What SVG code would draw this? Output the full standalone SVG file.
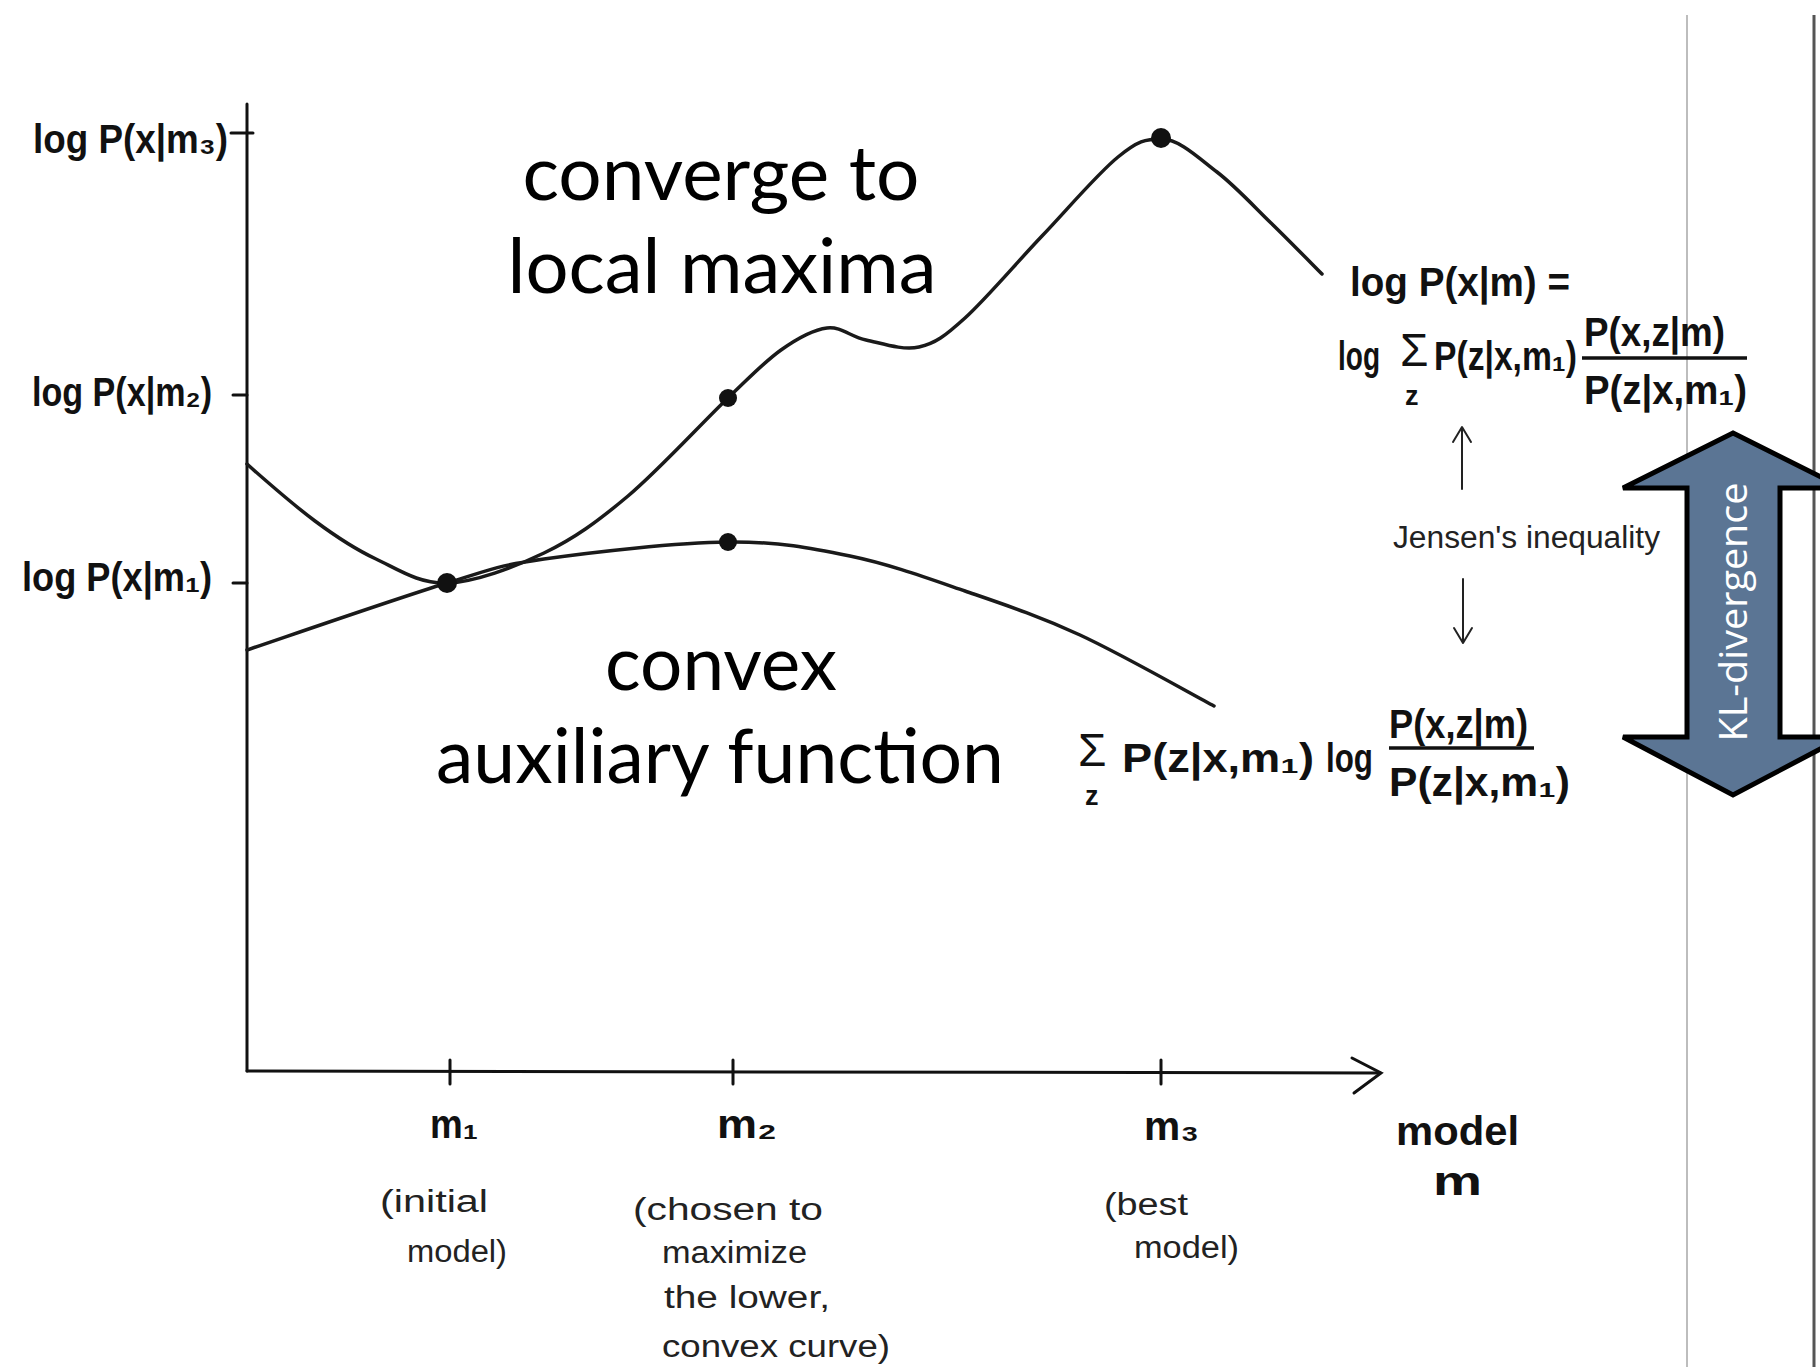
<svg xmlns="http://www.w3.org/2000/svg" width="1820" height="1367" viewBox="0 0 1820 1367">
<style>
.big{font-family:Lato,"Liberation Sans",sans-serif;font-size:76px;fill:#000;text-anchor:middle}
.hw{font-family:"Liberation Sans","DejaVu Sans",sans-serif;font-weight:bold;font-size:40px;fill:#111}
.note{font-family:"Liberation Sans","DejaVu Sans",sans-serif;font-size:31px;fill:#222}
.ax{stroke:#111;stroke-width:3;fill:none;stroke-linecap:round}
.curve{stroke:#1a1a1a;stroke-width:3.5;fill:none;stroke-linecap:round}
.thin{stroke:#222;stroke-width:2;fill:none;stroke-linecap:round;stroke-linejoin:round}
.bar{stroke:#111;stroke-width:3.5}
.dot{fill:#111}
.sig{font-family:"Liberation Sans","DejaVu Sans",sans-serif;font-size:46px;fill:#111}
.sub{font-family:"Liberation Sans","DejaVu Sans",sans-serif;font-weight:bold;font-size:27px;fill:#111}
</style>
<rect width="1820" height="1367" fill="#fff"/>
<g id="frame-lines">
<line x1="1687" y1="15" x2="1687" y2="1367" stroke="#bdbdbd" stroke-width="2"/>
<line x1="1814" y1="15" x2="1814" y2="1367" stroke="#555" stroke-width="3"/>
</g>
<g id="axes">
<line class="ax" x1="247" y1="104" x2="247" y2="1071"/>
<line class="ax" x1="247" y1="1071" x2="1380" y2="1073"/>
<polyline class="ax" points="1352,1058 1381,1073 1354,1093"/>
<line class="ax" x1="231" y1="133" x2="253" y2="133"/>
<line class="ax" x1="233" y1="395" x2="247" y2="395"/>
<line class="ax" x1="233" y1="583" x2="247" y2="583"/>
<line class="ax" x1="450" y1="1060" x2="450" y2="1084"/>
<line class="ax" x1="733" y1="1060" x2="733" y2="1084"/>
<line class="ax" x1="1161" y1="1060" x2="1161" y2="1084"/>
</g>
<g id="curves">
<path id="upper-curve" class="curve" d="M247,464 C258,474 293.5,505 315,521 C336.5,537 354,548.7 376,559 C398,569.3 419,584 447,583 C475,582 513.8,567.5 544,553 C574.2,538.5 597.3,521.8 628,496 C658.7,470.2 702.5,422.3 728,398 C753.5,373.7 764.5,361.7 781,350 C797.5,338.3 812.8,329.7 827,328 C841.2,326.3 850.7,336.8 866,340 C881.3,343.2 902.5,350.7 919,347 C935.5,343.3 944.5,336.5 965,318 C985.5,299.5 1016.5,262.8 1042,236 C1067.5,209.2 1098,173.2 1118,157 C1138,140.8 1145,139 1162,139 C1179,139 1198.8,158 1217,172 C1235.2,186 1253.5,206 1271,223 C1288.5,240 1313.5,265.5 1322,274"/>
<path id="lower-curve" class="curve" d="M247,650 C280.3,638.8 397.5,598.2 447,583 C496.5,567.8 497.2,565.8 544,559 C590.8,552.2 677,542.5 728,542 C779,541.5 810.5,547.8 850,556 C889.5,564.2 926.7,577.8 965,591 C1003.3,604.2 1038.5,615.8 1080,635 C1121.5,654.2 1191.7,694.2 1214,706"/>
<circle class="dot" cx="447" cy="583" r="10"/>
<circle class="dot" cx="728" cy="398" r="9"/>
<circle class="dot" cx="728" cy="542" r="9"/>
<circle class="dot" cx="1161" cy="138" r="10"/>
</g>
<g id="y-labels">
<text class="hw" x="33" y="153" font-size="42" textLength="195" lengthAdjust="spacingAndGlyphs">log P(x|m₃)</text>
<text class="hw" x="32" y="406" font-size="42" textLength="180" lengthAdjust="spacingAndGlyphs">log P(x|m₂)</text>
<text class="hw" x="22" y="591" font-size="42" textLength="190" lengthAdjust="spacingAndGlyphs">log P(x|m₁)</text>
</g>
<g id="titles">
<text class="big" x="721" y="200" textLength="397" lengthAdjust="spacingAndGlyphs">converge to</text>
<text class="big" x="722" y="293" textLength="429" lengthAdjust="spacingAndGlyphs">local maxima</text>
<text class="big" x="721" y="690" textLength="232" lengthAdjust="spacingAndGlyphs">convex</text>
<text class="big" x="720" y="783" textLength="568" lengthAdjust="spacingAndGlyphs">auxiliary function</text>
</g>
<g id="formula-top">
<text class="hw" x="1350" y="296" textLength="220" lengthAdjust="spacingAndGlyphs">log P(x|m) =</text>
<text class="hw" x="1338" y="370" font-size="32" textLength="42" lengthAdjust="spacingAndGlyphs">log</text>
<text class="sig" x="1400" y="366">Σ</text>
<text class="sub" x="1405" y="405">z</text>
<text class="hw" x="1434" y="370" textLength="143" lengthAdjust="spacingAndGlyphs">P(z|x,m₁)</text>
<text class="hw" x="1584" y="346" textLength="141" lengthAdjust="spacingAndGlyphs">P(x,z|m)</text>
<line class="bar" x1="1582" y1="358" x2="1747" y2="358"/>
<text class="hw" x="1584" y="404" textLength="163" lengthAdjust="spacingAndGlyphs">P(z|x,m₁)</text>
</g>
<g id="jensen">
<line class="thin" x1="1462" y1="489" x2="1462" y2="428"/>
<polyline class="thin" points="1453,442 1462,427 1471,442"/>
<text class="note" x="1393" y="548" textLength="267" lengthAdjust="spacingAndGlyphs">Jensen's inequality</text>
<line class="thin" x1="1463" y1="579" x2="1463" y2="642"/>
<polyline class="thin" points="1454,628 1463,643 1472,628"/>
</g>
<g id="formula-bottom">
<text class="sig" x="1078" y="766">Σ</text>
<text class="sub" x="1085" y="805">z</text>
<text class="hw" x="1122" y="772" textLength="192" lengthAdjust="spacingAndGlyphs">P(z|x,m₁)</text>
<text class="hw" x="1326" y="772" textLength="47" lengthAdjust="spacingAndGlyphs">log</text>
<text class="hw" x="1389" y="738" textLength="139" lengthAdjust="spacingAndGlyphs">P(x,z|m)</text>
<line class="bar" x1="1389" y1="748" x2="1534" y2="748"/>
<text class="hw" x="1389" y="796" textLength="181" lengthAdjust="spacingAndGlyphs">P(z|x,m₁)</text>
</g>
<g id="x-labels">
<text class="hw" x="430" y="1138" font-size="42" textLength="48" lengthAdjust="spacingAndGlyphs">m₁</text>
<text class="hw" x="717" y="1138" font-size="42" textLength="60" lengthAdjust="spacingAndGlyphs">m₂</text>
<text class="hw" x="1144" y="1140" font-size="42" textLength="55" lengthAdjust="spacingAndGlyphs">m₃</text>
<text class="hw" x="1396" y="1145" font-size="42" textLength="123" lengthAdjust="spacingAndGlyphs">model</text>
<text class="hw" x="1433" y="1195" font-size="42" textLength="49" lengthAdjust="spacingAndGlyphs">m</text>
<text class="note" x="380" y="1212" textLength="108" lengthAdjust="spacingAndGlyphs">(initial</text>
<text class="note" x="407" y="1262" textLength="100" lengthAdjust="spacingAndGlyphs">model)</text>
<text class="note" x="633" y="1220" textLength="190" lengthAdjust="spacingAndGlyphs">(chosen to</text>
<text class="note" x="662" y="1263" textLength="145" lengthAdjust="spacingAndGlyphs">maximize</text>
<text class="note" x="664" y="1308" textLength="166" lengthAdjust="spacingAndGlyphs">the lower,</text>
<text class="note" x="662" y="1357" textLength="228" lengthAdjust="spacingAndGlyphs">convex curve)</text>
<text class="note" x="1104" y="1215" textLength="84" lengthAdjust="spacingAndGlyphs">(best</text>
<text class="note" x="1134" y="1258" textLength="105" lengthAdjust="spacingAndGlyphs">model)</text>
</g>
<g id="kl-divergence">
<polygon points="1733,433 1843,488 1780,488 1780,737 1843,737 1733,795 1623,737 1687,737 1687,488 1623,488" fill="#5b7594" stroke="#000" stroke-width="5" stroke-linejoin="miter"/>
<text transform="translate(1747,612) rotate(-90)" x="0" y="0" font-family="'Open Sans','Noto Sans',sans-serif" font-size="39" fill="#fff" text-anchor="middle" textLength="259" lengthAdjust="spacingAndGlyphs">KL-divergence</text>
</g>
</svg>
